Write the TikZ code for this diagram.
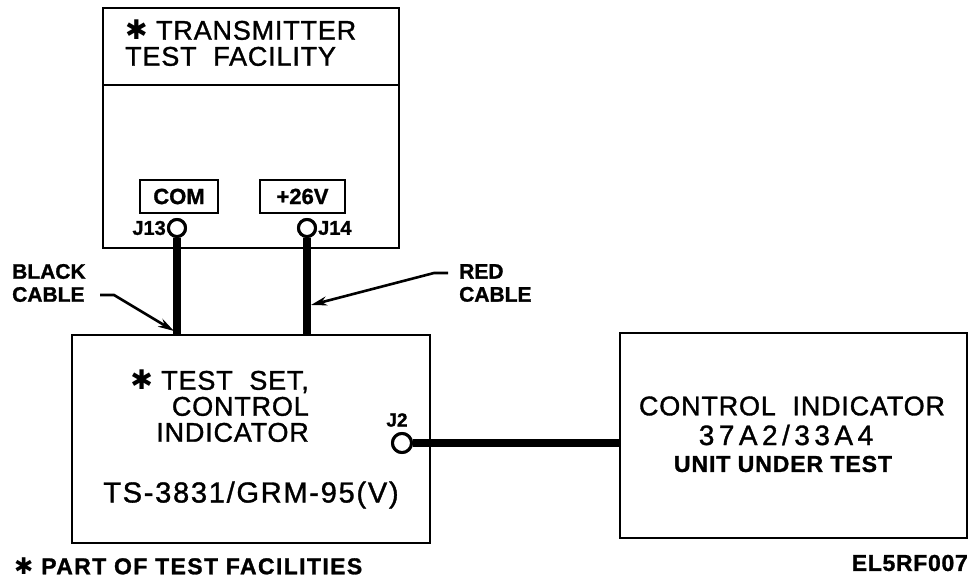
\documentclass[tikz,border=0pt]{standalone}
\usepackage{fontspec}
\setmainfont{Liberation Sans}[FakeBold=1.2]
\newfontfamily\starfont{DejaVu Sans}
\newfontfamily\heavyfont{Liberation Sans}[FakeBold=1.5,BoldFont=*,BoldFeatures={FakeBold=1.5}]
\usetikzlibrary{arrows.meta,positioning,calc}
\newcommand{\hstar}{{\starfont\bfseries ✱}}
\tikzset{
    % Unit box
    unitbox/.style={
        draw=black,
        line width=2.6pt,
        fill=white,
        inner sep=0pt
    },
    % Panel label box
    panelbox/.style={
        draw=black,
        line width=2.6pt,
        inner sep=0pt,
        font=\fontsize{22}{22}\selectfont\bfseries
    },
    % Jack
    jacknode/.style={
        circle,
        draw=black,
        line width=3pt,
        fill=white,
        inner sep=0pt,
        minimum size=17pt
    },
    % Heavy cable
    cable/.style={
        line width=7.5pt,
        draw=black
    },
    % Leader arrow
    leader/.style={
        -{Stealth[length=16pt,width=9pt]},
        line width=2.6pt,
        draw=black
    },
    % Small bold label
    smalllabel/.style={
        font=\fontsize{21}{23}\selectfont\bfseries,
        inner sep=0pt,
        align=left
    },
    % Main text
    maintext/.style={
        font=\fontsize{27}{26}\selectfont\addfontfeature{LetterSpace=3},
        inner sep=0pt
    }
}
\begin{document}
\begin{tikzpicture}[x=1pt,y=-1pt]
    \useasboundingbox (0,0) rectangle (971,583);

    % Transmitter test facility
    \node[unitbox,minimum width=296pt,minimum height=240pt] (xmtr) at (251,128) {};
    \coordinate (divl) at (103,85);
    \coordinate (divr) at (399,85);
    \draw[line width=2.6pt] (divl) -- (divr);
    \node[maintext,align=left,anchor=west] (xtitle) at (125,43)
        {\hstar\ TRANSMITTER\\TEST\ \ FACILITY};

    % Panel labels and jacks
    \node[panelbox,minimum width=78pt,minimum height=33pt] (com) at (179,196.5) {COM};
    \node[panelbox,minimum width=85pt,minimum height=33pt] (pos) at (302.5,196.5) {+26V};
    \node[jacknode] (j13) at (177,228) {};
    \node[jacknode] (j14) at (307,228) {};
    \node[smalllabel,font=\fontsize{20}{20}\selectfont\bfseries,anchor=east] (j13lbl) at (166,228) {J13};
    \node[smalllabel,font=\fontsize{20}{20}\selectfont\bfseries,anchor=west] (j14lbl) at (318,228) {J14};

    % Test set
    \node[unitbox,minimum width=358pt,minimum height=208pt] (tset) at (251,439) {};
    \node[maintext,align=right,anchor=east] (tsettxt) at (309,406)
        {\hstar\ TEST\ \ SET,\\CONTROL\\INDICATOR};
    \node[maintext,font=\fontsize{29}{29}\selectfont\addfontfeature{LetterSpace=6}] (tsetid) at (251,495)
        {TS-3831/GRM-95(V)};
    \node[jacknode,minimum size=19pt] (j2) at (402,443) {};
    \node[smalllabel,font=\fontsize{19}{19}\selectfont\bfseries] (j2lbl) at (397,420) {J2};

    % Unit under test
    \node[unitbox,minimum width=347pt,minimum height=205pt] (uut) at (793.5,435.5) {};
    \node[maintext] (uut1) at (792,406) {CONTROL\ \ INDICATOR};
    \node[maintext,font=\fontsize{28}{28}\selectfont\addfontfeature{LetterSpace=16}] (uut2) at (786,435) {37A2/33A4};
    \node[smalllabel,font=\fontsize{23}{23}\selectfont\bfseries\addfontfeature{LetterSpace=4}] (uut3) at (783,464) {UNIT UNDER TEST};

    % Cables
    \draw[cable] (j13.south) -- (j13.south |- tset.north);
    \draw[cable] (j14.south) -- (j14.south |- tset.north);
    \draw[cable] (j2.east) -- (j2.east -| uut.west);
    \node[jacknode] at (j13) {};
    \node[jacknode] at (j14) {};
    \node[jacknode,minimum size=19pt] at (j2) {};

    % Cable labels
    \node[smalllabel,anchor=west] (blk) at (12,283) {BLACK\\CABLE};
    \node[smalllabel,anchor=west] (red) at (459,283) {RED\\CABLE};
    \coordinate (blkstart) at (100,295);
    \coordinate (blkbend) at (114,295);
    \coordinate (blktip) at (174,331);
    \coordinate (redstart) at (448,273);
    \coordinate (redbend) at (434,273);
    \coordinate (redtip) at (311,305);
    \draw[leader] (blkstart) -- (blkbend) -- (blktip);
    \draw[leader] (redstart) -- (redbend) -- (redtip);

    % Notes
    \node[smalllabel,font=\fontsize{23}{23}\selectfont\bfseries\addfontfeature{LetterSpace=6},anchor=west] (note) at (14,566)
        {\hstar\ PART OF TEST FACILITIES};
    \node[smalllabel,font=\fontsize{23}{23}\selectfont\bfseries\addfontfeature{LetterSpace=3},anchor=east] (figid) at (968,563) {EL5RF007};
\end{tikzpicture}
\end{document}
